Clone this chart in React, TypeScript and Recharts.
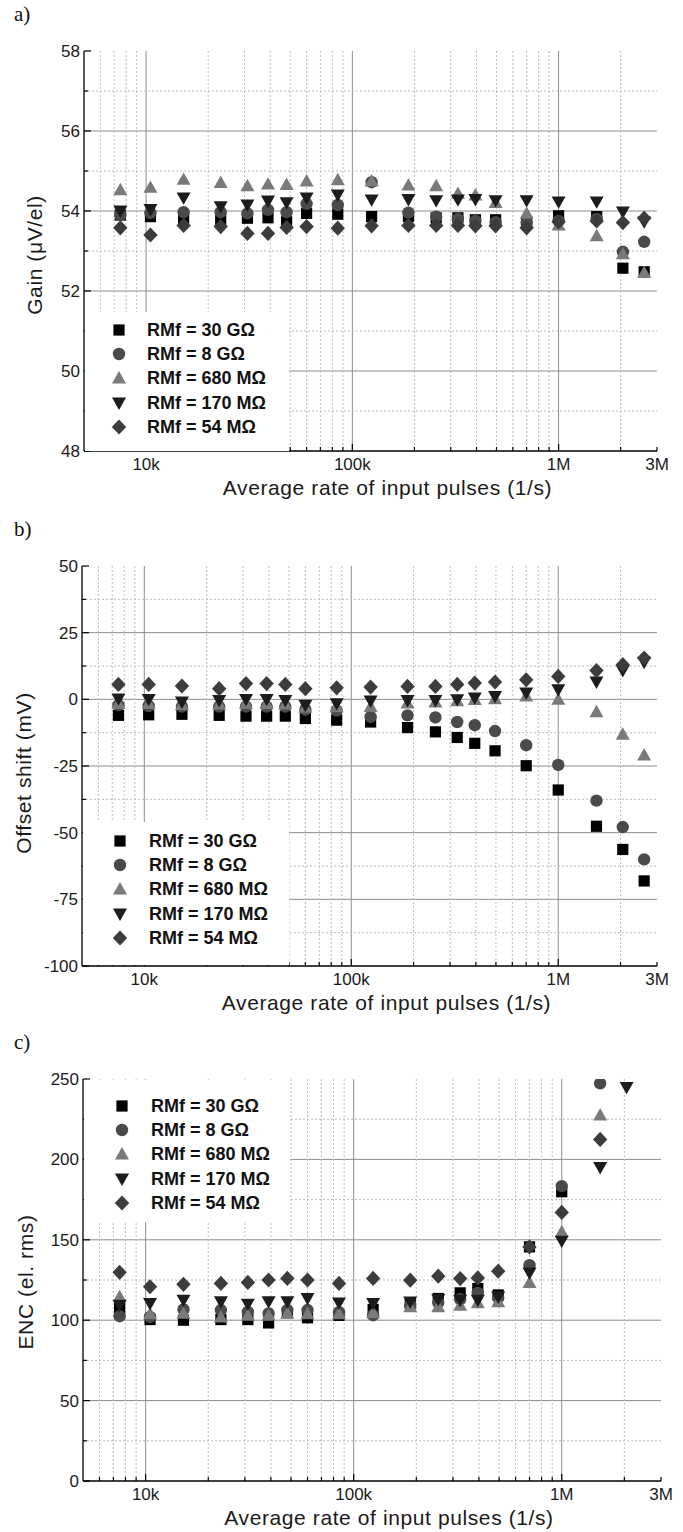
import React from "react";
import { ScatterChart, Scatter, XAxis, YAxis, CartesianGrid, Legend } from "recharts";

// average rate of input pulses (1/s)
const rates = [
  7500, 10500, 15200, 23000, 31000, 39000, 48000, 60000, 85000, 124000,
  187000, 255000, 325000, 395000, 495000, 700000, 1000000, 1530000, 2050000, 2600000,
];

// a) gain (uV/el)
const gain30G = [53.9, 53.86, 53.82, 53.78, 53.82, 53.83, 53.73, 53.94, 53.92, 53.86, 53.86, 53.83, 53.83, 53.78, 53.78, 53.73, 53.88, 53.86, 52.57, 52.48];
const gain8G = [53.9, 53.95, 53.97, 53.97, 53.94, 54.03, 53.97, 54.18, 54.15, 54.72, 53.96, 53.86, 53.8, 53.75, 53.72, 53.7, 53.75, 53.8, 52.98, 53.23];
const gain680M = [54.53, 54.59, 54.79, 54.71, 54.63, 54.67, 54.66, 54.75, 54.78, 54.75, 54.65, 54.63, 54.44, 54.4, 54.21, 53.94, 53.65, 53.38, 52.93, 52.46];
const gain170M = [54.0, 54.04, 54.33, 54.11, 54.15, 54.25, 54.21, 54.33, 54.4, 54.28, 54.29, 54.26, 54.28, 54.29, 54.26, 54.26, 54.23, 54.23, 53.98, 53.73];
const gain54M = [53.58, 53.4, 53.64, 53.61, 53.44, 53.44, 53.59, 53.61, 53.57, 53.63, 53.64, 53.64, 53.64, 53.63, 53.63, 53.58, 53.73, 53.75, 53.71, 53.82];

// b) offset shift (mV)
const off30G = [-6.0, -5.8, -5.6, -6.0, -6.3, -6.3, -6.3, -7.2, -7.8, -8.5, -10.6, -12.2, -14.3, -16.5, -19.3, -24.9, -34.0, -47.6, -56.3, -68.1];
const off8G = [-2.2, -2.5, -2.7, -2.7, -2.7, -2.7, -2.7, -3.9, -4.2, -6.6, -6.0, -6.8, -8.5, -9.7, -11.9, -17.2, -24.6, -38.0, -47.9, -60.0];
const off680M = [-1.6, -1.6, -2.0, -1.8, -1.6, -1.6, -1.8, -3.0, -2.8, -2.7, -1.4, -1.0, -0.6, -0.1, 0.2, 1.2, 0.0, -4.7, -13.1, -20.9];
const off170M = [0.2, 0.0, -1.0, -0.4, 0.0, 0.0, -0.4, -2.2, -1.6, -0.6, -0.4, -0.4, -0.1, 0.5, 1.1, 2.4, 3.6, 6.5, 10.8, 13.9];
const off54M = [5.6, 5.6, 5.0, 4.0, 5.9, 5.9, 5.6, 4.0, 4.3, 4.6, 4.85, 4.85, 5.6, 6.1, 6.5, 7.3, 8.6, 10.8, 13.0, 15.5];

// c) ENC (el. rms), null = off the top of the plot
const enc30G = [107.3, 100.4, 100, 100.4, 100.4, 98.3, 104.6, 101.5, 103, 106.7, 110.7, 113.5, 117, 119.7, 115.7, 145.6, 179.9, null, null, null];
const enc8G = [102.5, 102, 106.7, 106.3, 105.2, 104.2, 106.3, 106.3, 105, 103.1, 109, 111, 113, 117, 114, 134.2, 183.4, 247.3, null, null];
const enc680M = [114.6, 104, 104.2, 102, 103, 103, 104.2, 104, 104, 104.6, 108.3, 108.3, 109.3, 110.8, 111.4, 123.4, 155, 227.6, null, null];
const enc170M = [109.4, 110.4, 112.5, 111.5, 110, 111.5, 111.5, 113.5, 110.8, 110.4, 111.4, 112.9, 112.4, 112.4, 114.5, 129.4, 149.2, 195, 244.8, null];
const enc54M = [129.8, 120.8, 122.3, 122.9, 123.5, 125, 126, 125, 122.9, 126, 124.9, 127.4, 125.9, 126.3, 130.5, 145.6, 167, 212.4, null, null];

const seriesNames = ["RMf = 30 GΩ", "RMf = 8 GΩ", "RMf = 680 MΩ", "RMf = 170 MΩ", "RMf = 54 MΩ"];
const markerKinds = ["square", "circle", "up", "down", "diamond"];
const markerFills = ["#000000", "#4a4a4a", "#7a7a7a", "#1c1c1c", "#3c3c3c"];

const xTicks = [
  6000, 7000, 8000, 9000, 10000, 20000, 30000, 40000, 50000, 60000, 70000, 80000, 90000,
  100000, 200000, 300000, 400000, 500000, 600000, 700000, 800000, 900000, 1000000, 2000000, 3000000,
];
const xMajor = [10000, 100000, 1000000];
const xMinor = [
  6000, 7000, 8000, 9000, 20000, 30000, 40000, 50000, 60000, 70000, 80000, 90000,
  200000, 300000, 400000, 500000, 600000, 700000, 800000, 900000, 2000000,
];
const xLabels: Record<number, string> = { 10000: "10k", 100000: "100k", 1000000: "1M", 3000000: "3M" };

const gainTicks = [48, 49, 50, 51, 52, 53, 54, 55, 56, 57, 58];
const gainMajor = [50, 52, 54, 56];
const gainMinor = [49, 51, 53, 55, 57];
const gainLabels = [48, 50, 52, 54, 56, 58];

const offTicks = [-100, -87.5, -75, -62.5, -50, -37.5, -25, -12.5, 0, 12.5, 25, 37.5, 50];
const offMajor = [-75, -50, -25, 0, 25];
const offMinor = [-87.5, -62.5, -37.5, -12.5, 12.5, 37.5];
const offLabels = [-100, -75, -50, -25, 0, 25, 50];

const encTicks = [0, 25, 50, 75, 100, 125, 150, 175, 200, 225, 250];
const encMajor = [50, 100, 150, 200];
const encMinor = [25, 75, 125, 175, 225];
const encLabels = [0, 50, 100, 150, 200, 250];

const SANS = "'Liberation Sans', Arial, sans-serif";

function Marker({ cx, cy, kind, fill }: any) {
  if (cx == null || cy == null) return null;
  if (kind === "square") return <rect x={cx - 5.6} y={cy - 5.6} width={11.2} height={11.2} fill={fill} />;
  if (kind === "circle") return <circle cx={cx} cy={cy} r={6.2} fill={fill} />;
  if (kind === "up")
    return <polygon points={`${cx},${cy - 7} ${cx + 7},${cy + 5.4} ${cx - 7},${cy + 5.4}`} fill={fill} />;
  if (kind === "down")
    return <polygon points={`${cx},${cy + 7} ${cx + 7},${cy - 5.4} ${cx - 7},${cy - 5.4}`} fill={fill} />;
  return <polygon points={`${cx},${cy - 7.6} ${cx + 7.2},${cy} ${cx},${cy + 7.6} ${cx - 7.2},${cy}`} fill={fill} />;
}

function makeTick(side: string, majors: number[], labels: (v: number) => string) {
  return (p: any) => {
    const { x, y, payload } = p;
    const v = payload.value;
    const len = majors.includes(v) ? 7 : 4;
    const text = labels(v);
    const txt = { fontFamily: SANS, fontSize: 17, fill: "#1a1a1a" };
    if (side === "bottom")
      return (
        <g>
          <line x1={x} y1={y} x2={x} y2={y - len} stroke="#000" strokeWidth={1.2} />
          {text && <text x={x} y={y + 19} textAnchor="middle" {...txt}>{text}</text>}
        </g>
      );
    if (side === "top")
      return <line x1={x} y1={y} x2={x} y2={y + len} stroke="#000" strokeWidth={1.2} />;
    if (side === "left")
      return (
        <g>
          <line x1={x} y1={y} x2={x + len} y2={y} stroke="#000" strokeWidth={1.2} />
          {text && <text x={x - 4} y={y + 6} textAnchor="end" {...txt}>{text}</text>}
        </g>
      );
    return <line x1={x} y1={y} x2={x - len} y2={y} stroke="#000" strokeWidth={1.2} />;
  };
}

type PanelProps = {
  tag: string;
  top: number;
  height: number;
  left: number;
  right: number;
  plotHeight: number;
  yDomain: [number, number];
  yTicks: number[];
  yMajor: number[];
  yMinor: number[];
  yLabels: number[];
  yTitle: string;
  yTitleX: number;
  yTitleDy: number;
  values: (number | null)[][];
  legendBox: { left: number; top: number; width: number; height: number };
  legendRow0: number;
  legendMarkerX: number;
  legendTextX: number;
};

const PLOT_TOP = 51;

function Panel(props: PanelProps) {
  const { tag, top, height, left, right, plotHeight, yDomain, yTicks, yMajor, yMinor, yLabels, yTitle, yTitleX, yTitleDy, values, legendBox } = props;
  const bottomH = height - PLOT_TOP - plotHeight;
  const noLabel = () => "";
  const yLabel = (v: number) => (yLabels.includes(v) ? String(v) : "");

  const legendContent = () => (
    <div style={{ position: "relative", width: legendBox.width, height: legendBox.height, background: "#fff" }}>
      {seriesNames.map((name, i) => {
        const cy = props.legendRow0 + i * 24.2;
        return (
          <div key={name} style={{ position: "absolute", left: 0, top: cy - 12, width: legendBox.width, height: 24 }}>
            <svg width={20} height={20} style={{ position: "absolute", left: props.legendMarkerX - 10, top: 2 }}>
              <Marker cx={10} cy={10} kind={markerKinds[i]} fill={markerFills[i]} />
            </svg>
            <span
              style={{
                position: "absolute",
                left: props.legendTextX,
                top: 0,
                lineHeight: "24px",
                fontFamily: SANS,
                fontWeight: "bold",
                fontSize: 18,
                color: "#111",
                whiteSpace: "nowrap",
              }}
            >
              {name}
            </span>
          </div>
        );
      })}
    </div>
  );

  return (
    <div style={{ position: "absolute", left: 0, top, width: 683, height }}>
      <ScatterChart width={683} height={height} margin={{ top: PLOT_TOP, right: 683 - right, bottom: 0, left: 0 }}>
        <CartesianGrid horizontalValues={yMajor} verticalValues={xMajor} stroke="#8c8c8c" strokeWidth={1} />
        <CartesianGrid horizontalValues={yMinor} verticalValues={xMinor} stroke="#bdbdbd" strokeDasharray="2 2" strokeWidth={1} />
        <XAxis
          dataKey="x"
          type="number"
          scale="log"
          domain={[5000, 3000000]}
          allowDataOverflow
          ticks={xTicks}
          interval={0}
          height={bottomH}
          tickSize={0}
          tickMargin={0}
          tickLine={false}
          axisLine={{ stroke: "#000", strokeWidth: 1.3 }}
          tick={makeTick("bottom", xMajor, (v) => xLabels[v] || "")}
          label={{
            value: "Average rate of input pulses (1/s)",
            content: (p: any) => {
              const vb = p.viewBox || {};
              return (
                <text
                  x={vb.x + vb.width / 2 + 17}
                  y={vb.y + 44}
                  textAnchor="middle"
                  fontFamily={SANS}
                  fontSize={21}
                  letterSpacing={0.6}
                  fill="#1a1a1a"
                >
                  {p.value}
                </text>
              );
            },
          }}
        />
        <XAxis
          xAxisId="top"
          orientation="top"
          type="number"
          scale="log"
          domain={[5000, 3000000]}
          allowDataOverflow
          ticks={xTicks}
          interval={0}
          height={0}
          tickSize={0}
          tickMargin={0}
          tickLine={false}
          axisLine={{ stroke: "#000", strokeWidth: 1.3 }}
          tick={makeTick("top", xMajor, noLabel)}
        />
        <YAxis
          dataKey="y"
          type="number"
          domain={yDomain}
          allowDataOverflow
          ticks={yTicks}
          interval={0}
          width={left}
          tickSize={0}
          tickMargin={0}
          tickLine={false}
          axisLine={{ stroke: "#000", strokeWidth: 1.3 }}
          tick={makeTick("left", yLabels, yLabel)}
          label={{
            value: yTitle,
            content: (p: any) => {
              const vb = p.viewBox || {};
              const cy = vb.y + vb.height / 2 + yTitleDy;
              return (
                <text
                  x={yTitleX}
                  y={cy}
                  transform={`rotate(-90 ${yTitleX} ${cy})`}
                  textAnchor="middle"
                  dominantBaseline="central"
                  fontFamily={SANS}
                  fontSize={21}
                  letterSpacing={0.6}
                  fill="#1a1a1a"
                >
                  {p.value}
                </text>
              );
            },
          }}
        />
        <YAxis
          yAxisId="right"
          orientation="right"
          type="number"
          domain={yDomain}
          allowDataOverflow
          ticks={yTicks}
          interval={0}
          width={0}
          tickSize={0}
          tickMargin={0}
          tickLine={false}
          axisLine={{ stroke: "#000", strokeWidth: 1.3 }}
          tick={makeTick("right", yLabels, noLabel)}
        />
        {values.map((vals, i) => (
          <Scatter
            key={seriesNames[i]}
            name={seriesNames[i]}
            data={rates
              .map((x, j) => ({ x, y: vals[j] }))
              .filter((d) => d.y !== null && d.y !== undefined)}
            fill={markerFills[i]}
            isAnimationActive={false}
            shape={(p: any) => <Marker cx={p.cx} cy={p.cy} kind={markerKinds[i]} fill={markerFills[i]} />}
          />
        ))}
        <Legend
          layout="vertical"
          align="center"
          verticalAlign="middle"
          wrapperStyle={{ left: legendBox.left, top: legendBox.top, width: legendBox.width, height: legendBox.height, margin: 0, padding: 0 }}
          content={legendContent}
        />
      </ScatterChart>
      <div
        style={{
          position: "absolute",
          left: 14,
          top: 3,
          fontFamily: "'Liberation Serif', 'Times New Roman', serif",
          fontSize: 21,
          lineHeight: "22px",
          color: "#111",
        }}
      >
        {tag}
      </div>
    </div>
  );
}

export default function App() {
  return (
    <div style={{ position: "absolute", left: 0, top: 0, width: 683, height: 1532, background: "#fff" }}>
      <Panel
        tag="a)"
        top={0}
        height={500}
        left={84}
        right={657}
        plotHeight={400}
        yDomain={[48, 58]}
        yTicks={gainTicks}
        yMajor={gainMajor}
        yMinor={gainMinor}
        yLabels={gainLabels}
        yTitle="Gain (μV/el)"
        yTitleX={34}
        yTitleDy={4}
        values={[gain30G, gain8G, gain680M, gain170M, gain54M]}
        legendBox={{ left: 85, top: 312, width: 204, height: 139 }}
        legendRow0={18}
        legendMarkerX={34}
        legendTextX={62}
      />
      <Panel
        tag="b)"
        top={515}
        height={500}
        left={82}
        right={657}
        plotHeight={400}
        yDomain={[-100, 50]}
        yTicks={offTicks}
        yMajor={offMajor}
        yMinor={offMinor}
        yLabels={offLabels}
        yTitle="Offset shift (mV)"
        yTitleX={23}
        yTitleDy={7}
        values={[off30G, off8G, off680M, off170M, off54M]}
        legendBox={{ left: 83, top: 307, width: 206, height: 143 }}
        legendRow0={19}
        legendMarkerX={37}
        legendTextX={66}
      />
      <Panel
        tag="c)"
        top={1028}
        height={504}
        left={83}
        right={661}
        plotHeight={402}
        yDomain={[0, 250]}
        yTicks={encTicks}
        yMajor={encMajor}
        yMinor={encMinor}
        yLabels={encLabels}
        yTitle="ENC (el. rms)"
        yTitleX={25}
        yTitleDy={2}
        values={[enc30G, enc8G, enc680M, enc170M, enc54M]}
        legendBox={{ left: 84, top: 52, width: 206, height: 142 }}
        legendRow0={26}
        legendMarkerX={38}
        legendTextX={67}
      />
    </div>
  );
}
